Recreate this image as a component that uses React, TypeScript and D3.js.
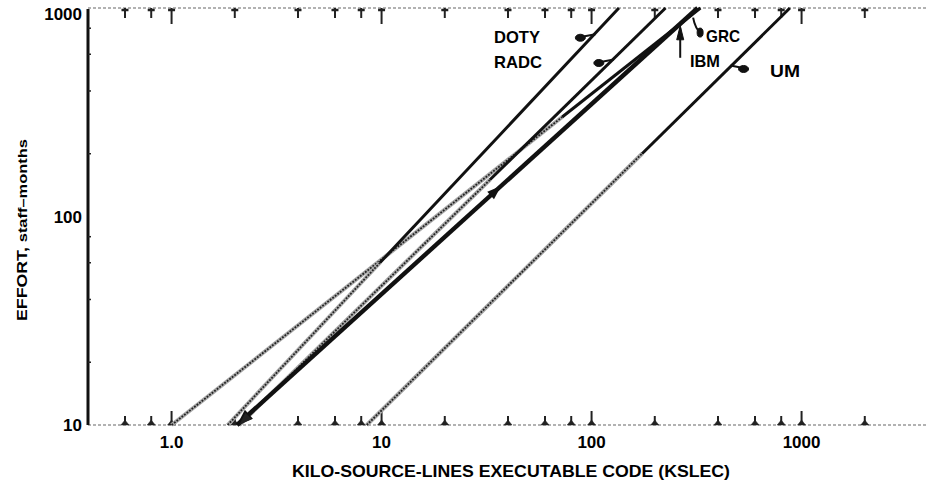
import React from 'react';
import * as d3 from 'd3';

// cost models compared in the chart
const models = ['GRC', 'DOTY', 'RADC', 'IBM', 'UM'];
// size (KSLEC) where each model line starts (effort 10) and ends (effort 1000)
const kslecStart = [1.0, 1.85, 2.1, 2.05, 8.5];
const kslecEnd = [330, 135, 225, 320, 880];
const effortStart = [10, 10, 10, 10, 10];
const effortEnd = [1000, 1000, 1000, 1000, 1000];
// effort above which the printed line turns from hatched to solid
const solidAbove = [300, 60, 150, 10, 200];
// effort where the label pointer meets its line
const pointerEffort = [930, 740, 560, 840, 530];

const xMajorTicks = [1, 10, 100, 1000];
const xTickLabels = ['1.0', '10', '100', '1000'];
const xMinorTicks = [0.6, 0.8, 2, 4, 6, 8, 20, 40, 60, 80, 200, 400, 600, 800, 2000];
const yMajorTicks = [10, 100, 1000];
const yTickLabels = ['10', '100', '1000'];
const yMinorTicks = [20, 40, 60, 80, 200, 400, 600, 800];

const W = 927, H = 485;
const FONT = '"Liberation Sans", Arial, sans-serif';

export default function App() {
    const x = d3.scaleLog().domain([0.4, 4000]).range([88, 928]);
    const y = d3.scaleLog().domain([10, 1000]).range([425, 8]);
    const line = d3.line<[number, number]>().x(d => x(d[0])).y(d => y(d[1]));

    // size on model i's line for a given effort (straight line in log-log)
    const sizeAt = (i: number, e: number) => {
        const t = (Math.log10(e) - Math.log10(effortStart[i])) /
            (Math.log10(effortEnd[i]) - Math.log10(effortStart[i]));
        return Math.pow(10, Math.log10(kslecStart[i]) + t * (Math.log10(kslecEnd[i]) - Math.log10(kslecStart[i])));
    };
    const pt = (i: number, e: number) => [x(sizeAt(i, e)), y(e)];

    const arrowHead = (i: number, e: number, towardStart: boolean, len = 15, half = 5) => {
        const [px, py] = pt(i, e);
        const [qx, qy] = pt(i, towardStart ? e * 1.5 : e / 1.5);
        const dx = px - qx, dy = py - qy, n = Math.hypot(dx, dy);
        const ux = dx / n, uy = dy / n;
        const bx = px - ux * len, by = py - uy * len;
        return `M${px},${py}L${bx - uy * half},${by + ux * half}L${bx + uy * half},${by - ux * half}Z`;
    };

    const topTicks = [...xMinorTicks.map(v => ({ v, h: 10 })), ...xMajorTicks.map(v => ({ v, h: 16 }))];
    const botTicks = [...xMinorTicks.map(v => ({ v, h: 9 })), ...xMajorTicks.map(v => ({ v, h: 14 }))];

    const idx = (m: string) => models.indexOf(m);
    const [dotyX, dotyY] = pt(idx('DOTY'), pointerEffort[idx('DOTY')]);
    const [radcX, radcY] = pt(idx('RADC'), pointerEffort[idx('RADC')]);
    const [umX, umY] = pt(idx('UM'), pointerEffort[idx('UM')]);
    const [ibmX, ibmY] = pt(idx('IBM'), pointerEffort[idx('IBM')]);
    const [grcX, grcY] = pt(idx('GRC'), pointerEffort[idx('GRC')]);

    return (
        <svg width={W} height={H} style={{ position: 'absolute', left: 0, top: 0, display: 'block', background: '#fff' }}
            fontFamily={FONT} fontWeight="bold">
            {/* frame */}
            <line x1={x(0.4)} x2={W} y1={y(1000)} y2={y(1000)} stroke="#999" strokeWidth={1.5} strokeDasharray="3 2" />
            <line x1={x(0.4)} x2={W} y1={y(10)} y2={y(10)} stroke="#999" strokeWidth={1.5} strokeDasharray="3 2" />
            <line x1={x(0.4)} x2={x(0.4)} y1={y(1000) + 1} y2={y(10)} stroke="#111" strokeWidth={3} />

            {topTicks.map((t, i) => (
                <g key={'tt' + i} stroke="#222">
                    <line x1={x(t.v)} x2={x(t.v)} y1={y(1000)} y2={y(1000) + t.h} strokeWidth={2} />
                    <line x1={x(t.v) - 3.5} x2={x(t.v) + 3.5} y1={y(1000) + 2} y2={y(1000) + 2} strokeWidth={2.5} />
                </g>
            ))}
            {botTicks.map((t, i) => (
                <g key={'bt' + i} fill="#222" stroke="#222">
                    <line x1={x(t.v)} x2={x(t.v)} y1={y(10)} y2={y(10) - t.h} strokeWidth={2} />
                    <path d={`M${x(t.v) - 4},${y(10)}L${x(t.v) + 4},${y(10)}L${x(t.v)},${y(10) - 5}Z`} strokeWidth={0.5} />
                </g>
            ))}
            {yMinorTicks.map((v, i) => (
                <line key={'ym' + i} x1={x(0.4)} x2={x(0.4) + 3} y1={y(v)} y2={y(v)} stroke="#222" strokeWidth={1.5} />
            ))}

            {xMajorTicks.map((v, i) => (
                <text key={'xl' + i} x={x(v)} y={448} textAnchor="middle" fontSize={17} fill="#000">{xTickLabels[i]}</text>
            ))}
            {yMajorTicks.map((v, i) => (
                <text key={'yl' + i} x={82} y={Math.max(y(v), 14)} dy="0.36em" textAnchor="end" fontSize={17} fill="#000">{yTickLabels[i]}</text>
            ))}

            <text x={511} y={477} textAnchor="middle" fontSize={17} fill="#000" textLength={438} lengthAdjust="spacingAndGlyphs">
                KILO-SOURCE-LINES EXECUTABLE CODE (KSLEC)
            </text>
            <text transform="translate(27,230) rotate(-90)" textAnchor="middle" fontSize={14} fill="#000" textLength={182} lengthAdjust="spacingAndGlyphs">
                EFFORT, <tspan fontSize={13}>staff–months</tspan>
            </text>

            {/* model lines */}
            {models.map((m, i) => {
                const lo = Math.max(solidAbove[i], effortStart[i]);
                const hatched = lo > effortStart[i]
                    ? line([[kslecStart[i], effortStart[i]], [sizeAt(i, lo), lo]]) : null;
                const solid = line([[sizeAt(i, lo), lo], [kslecEnd[i], effortEnd[i]]]);
                const w = m === 'IBM' ? 4.4 : 3;
                return (
                    <g key={m} fill="none">
                        {hatched && <path d={hatched} stroke="#a8a8a8" strokeWidth={4} />}
                        {hatched && <path d={hatched} stroke="#222" strokeWidth={1.8} strokeDasharray="1.8 1.4" />}
                        <path d={solid} stroke="#111" strokeWidth={w} />
                    </g>
                );
            })}
            <path d={arrowHead(idx('IBM'), 10, true, 16, 6)} fill="#111" />
            <path d={arrowHead(idx('RADC'), 10, true, 13, 4.5)} fill="#222" />
            <path d={arrowHead(idx('IBM'), 140, false, 14, 5)} fill="#111" />

            {/* labels and pointers */}
            <g fill="#000" fontSize={17}>
                <text x={494} y={43} textLength={46} lengthAdjust="spacingAndGlyphs">DOTY</text>
                <text x={494} y={68} textLength={48} lengthAdjust="spacingAndGlyphs">RADC</text>
                <text x={706} y={42} textLength={34} lengthAdjust="spacingAndGlyphs">GRC</text>
                <text x={690} y={67} textLength={30} lengthAdjust="spacingAndGlyphs">IBM</text>
                <text x={770} y={77} textLength={30} lengthAdjust="spacingAndGlyphs">UM</text>
            </g>
            <g fill="#111" stroke="#111">
                <line x1={dotyX + 2} y1={dotyY - 1} x2={dotyX - 14} y2={dotyY + 2} strokeWidth={2} />
                <ellipse cx={dotyX - 13} cy={dotyY + 2.5} rx={5} ry={3.5} />
                <line x1={radcX + 2} y1={radcY - 1} x2={radcX - 14} y2={radcY + 2} strokeWidth={2} />
                <ellipse cx={radcX - 13} cy={radcY + 2.5} rx={5} ry={3.5} />
                <line x1={umX - 1} y1={umY} x2={umX + 14} y2={umY + 3} strokeWidth={2} />
                <ellipse cx={umX + 12} cy={umY + 3.5} rx={5} ry={3.5} />
                <line x1={ibmX} y1={ibmY + 4} x2={ibmX} y2={ibmY + 34} strokeWidth={2} />
                <path d={`M${ibmX},${ibmY + 2}L${ibmX - 3.5},${ibmY + 16}L${ibmX + 3.5},${ibmY + 16}Z`} />
                <path d={`M${grcX + 1},${grcY + 3}Q${grcX + 3},${grcY + 14} ${grcX + 9},${grcY + 19}`} fill="none" strokeWidth={2} />
                <ellipse cx={grcX + 8} cy={grcY + 18} rx={3} ry={4.5} />
            </g>
        </svg>
    );
}
